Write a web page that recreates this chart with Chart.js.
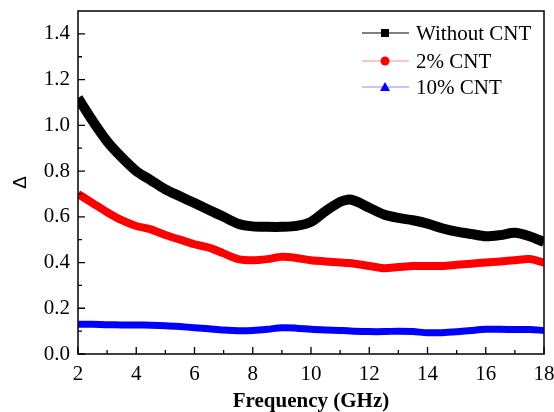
<!DOCTYPE html>
<html>
<head>
<meta charset="utf-8">
<script src="https://cdn.jsdelivr.net/npm/chart.js@4.4.1/dist/chart.umd.min.js"></script>
<style>
html,body{margin:0;padding:0;background:#fff;}
#wrap{width:554px;height:412px;position:relative;}
</style>
</head>
<body>
<div id="wrap"><canvas id="c" width="554" height="412"></canvas></div>
<script>
const freq = [2,2.5,3,3.5,4,4.5,5,5.5,6,6.5,7,7.5,8,8.5,9,9.5,10,10.5,11,11.25,11.5,12,12.5,13,13.5,14,14.5,15,15.5,16,16.5,17,17.5,18];
const withoutCNT = [1.12,1.02,0.93,0.86,0.80,0.76,0.72,0.69,0.66,0.63,0.60,0.57,0.558,0.556,0.556,0.56,0.578,0.625,0.665,0.675,0.67,0.64,0.61,0.595,0.585,0.57,0.55,0.535,0.525,0.515,0.52,0.53,0.515,0.49];
const cnt2 = [0.70,0.66,0.62,0.585,0.56,0.545,0.52,0.50,0.48,0.465,0.44,0.415,0.41,0.415,0.425,0.42,0.41,0.405,0.40,0.398,0.395,0.385,0.375,0.38,0.385,0.385,0.385,0.39,0.395,0.40,0.405,0.41,0.415,0.40];
const cnt10 = [0.13,0.13,0.128,0.127,0.127,0.126,0.124,0.12,0.115,0.11,0.105,0.102,0.103,0.108,0.115,0.113,0.108,0.105,0.103,0.102,0.10,0.098,0.098,0.10,0.098,0.093,0.093,0.097,0.103,0.108,0.108,0.107,0.107,0.103];
const seriesNames = ['Without CNT','2% CNT','10% CNT'];
const xTicks = [2,4,6,8,10,12,14,16,18];
const yTicks = [0,0.2,0.4,0.6,0.8,1.0,1.2,1.4];
const xMinor = [3,5,7,9,11,13,15,17];
const yMinor = [0.1,0.3,0.5,0.7,0.9,1.1,1.3];

const pts = arr => freq.map((f,i)=>({x:f,y:arr[i]}));

const frame = {
  id:'frame',
  afterDraw(chart){
    const ctx = chart.ctx, a = chart.chartArea;
    const xs = chart.scales.x, ys = chart.scales.y;
    ctx.save();
    ctx.strokeStyle = '#000';
    ctx.lineWidth = 1.5;
    ctx.strokeRect(a.left, a.top, a.right-a.left, a.bottom-a.top);
    ctx.lineWidth = 1.3;
    ctx.beginPath();
    xTicks.forEach(v=>{const p=xs.getPixelForValue(v); ctx.moveTo(p,a.bottom); ctx.lineTo(p,a.bottom-7);});
    xMinor.forEach(v=>{const p=xs.getPixelForValue(v); ctx.moveTo(p,a.bottom); ctx.lineTo(p,a.bottom-4);});
    yTicks.forEach(v=>{const p=ys.getPixelForValue(v); ctx.moveTo(a.left,p); ctx.lineTo(a.left+7,p);});
    yMinor.forEach(v=>{const p=ys.getPixelForValue(v); ctx.moveTo(a.left,p); ctx.lineTo(a.left+4,p);});
    ctx.stroke();
    // legend
    const rows = [
      {y:33, line:'#000', fill:'#000', shape:'rect'},
      {y:61, line:'#f88', fill:'#f00', shape:'circle'},
      {y:87, line:'#88f', fill:'#00f', shape:'tri'}
    ];
    ctx.font = '21px "Liberation Serif"';
    ctx.textBaseline = 'middle';
    ctx.textAlign = 'left';
    rows.forEach((r,i)=>{
      ctx.strokeStyle = r.line; ctx.lineWidth = 1;
      ctx.beginPath(); ctx.moveTo(362,r.y); ctx.lineTo(409,r.y); ctx.stroke();
      ctx.fillStyle = r.fill;
      ctx.beginPath();
      if(r.shape==='rect'){ ctx.rect(381,r.y-4,8,8); }
      else if(r.shape==='circle'){ ctx.arc(385,r.y,4.5,0,Math.PI*2); }
      else { ctx.moveTo(385,r.y-5); ctx.lineTo(390,r.y+4); ctx.lineTo(380,r.y+4); ctx.closePath(); }
      ctx.fill();
      ctx.fillStyle = '#000';
      ctx.fillText(seriesNames[i], 416, r.y+1);
    });
    ctx.restore();
  }
};

new Chart(document.getElementById('c'), {
  type:'line',
  data:{datasets:[
    {label:seriesNames[0], data:pts(withoutCNT), borderColor:'#000', borderWidth:10, pointRadius:0, tension:0.3},
    {label:seriesNames[1], data:pts(cnt2), borderColor:'#f00', borderWidth:8, pointRadius:0, tension:0.3},
    {label:seriesNames[2], data:pts(cnt10), borderColor:'#00f', borderWidth:7, pointRadius:0, tension:0.3}
  ]},
  options:{
    responsive:false, animation:false,
    layout:{padding:{top:11,right:10,left:0,bottom:0}},
    plugins:{legend:{display:false}, tooltip:{enabled:false}},
    scales:{
      x:{type:'linear', min:2, max:18,
        afterBuildTicks(s){ s.ticks = xTicks.map(v=>({value:v})); },
        afterFit(s){ s.height = 58; s.paddingLeft = 0; s.paddingRight = 0; },
        grid:{display:false, drawTicks:false}, border:{display:false},
        ticks:{padding:8, color:'#000', font:{family:'"Liberation Serif"', size:21}, maxRotation:0, autoSkip:false},
        title:{display:true, text:'Frequency (GHz)', color:'#000', font:{family:'"Liberation Serif"', size:21, weight:'bold', lineHeight:1}, padding:{top:0,bottom:0}}
      },
      y:{type:'linear', min:0, max:1.5,
        afterBuildTicks(s){ s.ticks = yTicks.map(v=>({value:v})); },
        afterFit(s){ s.width = 78; s.paddingTop = 0; s.paddingBottom = 0; },
        grid:{display:false, drawTicks:false}, border:{display:false},
        ticks:{padding:8, color:'#000', font:{family:'"Liberation Serif"', size:21}, callback:v=>v.toFixed(1), autoSkip:false},
        title:{display:true, text:'Δ', color:'#000', font:{family:'"Liberation Sans"', size:19, lineHeight:1.2}, padding:{top:9,bottom:0}}
      }
    }
  },
  plugins:[frame]
});
</script>
</body>
</html>
